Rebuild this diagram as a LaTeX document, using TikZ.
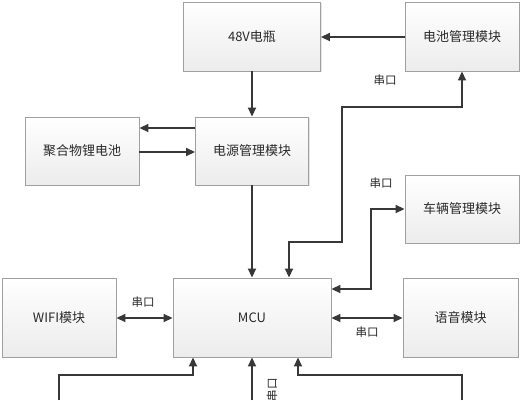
\documentclass[tikz,border=0pt]{standalone}
\usepackage{fontspec}
\setmainfont{Noto Sans CJK SC}
\usetikzlibrary{arrows.meta,shadows}

\definecolor{linegray}{HTML}{383838}
\definecolor{boxgray}{HTML}{A0A0A0}
\definecolor{txtgray}{HTML}{2A2A2A}

\tikzset{
	blk/.style={draw=boxgray, line width=.9pt, top color=white, bottom color=gray!15,
		minimum width=#1, text=txtgray, font=\fontsize{13}{15}\selectfont,
		drop shadow={opacity=.2, shadow xshift=1.2pt, shadow yshift=-1.2pt}},
	conn/.style={draw=linegray, line width=1.7pt, -{Triangle[length=9pt,width=8pt]}},
	conn2/.style={draw=linegray, line width=1.7pt, {Triangle[length=9pt,width=8pt]}-{Triangle[length=9pt,width=8pt]}},
	lbl/.style={text=txtgray, font=\fontsize{11.5}{12}\selectfont, inner sep=0pt}
}

\begin{document}
\begin{tikzpicture}[x=1pt,y=-1pt]

	\fill[white] (0,0) rectangle (525,400);
	\useasboundingbox (0,0) rectangle (525,400);

	% boxes
	\node[blk=137pt, minimum height=69pt] (bat48) at (252,36.5) {48V电瓶};
	\node[blk=114pt, minimum height=69pt] (bms) at (462,36.5) {电池管理模块};
	\node[blk=114pt, minimum height=68pt] (lipo) at (82,151) {聚合物锂电池};
	\node[blk=113pt, minimum height=68pt] (pwr) at (252,151) {电源管理模块};
	\node[blk=114pt, minimum height=68pt] (vcu) at (462,209) {车辆管理模块};
	\node[blk=114pt, minimum height=79pt] (wifi) at (59,317.5) {WIFI模块};
	\node[blk=158pt, minimum height=79pt] (mcu) at (252,317.5) {MCU};
	\node[blk=115pt, minimum height=79pt] (voice) at (460.5,317.5) {语音模块};

	% free ends at the lower edge
	\coordinate (b1) at (59,400);
	\coordinate (b2) at (252,400);
	\coordinate (b3) at (462,400);

	% power
	\draw[conn] (bms.west |- 0,37) -- (bat48.east |- 0,37);
	\draw[conn] (bat48.south) -- (pwr.north);
	\draw[conn] (pwr.west |- 0,128) -- (lipo.east |- 0,128);
	\draw[conn] (lipo.east |- 0,152) -- (pwr.west |- 0,152);
	\draw[conn] (pwr.south) -- (pwr.south |- mcu.north);

	% serial links
	\draw[conn2] (bms.south) |- (342,107) |- (289,242) -- (mcu.north -| 289,0);
	\draw[conn2] (vcu.west) -| (371,289) -- (mcu.east |- 0,289);
	\draw[conn2] (wifi.east |- 0,318) -- (mcu.west |- 0,318);
	\draw[conn2] (mcu.east |- 0,318) -- (voice.west |- 0,318);

	\draw[conn] (b1) |- (193,375) -- (mcu.south -| 193,0);
	\draw[conn] (b2) -- (mcu.south -| b2);
	\draw[conn] (b3) |- (298,375) -- (mcu.south -| 298,0);

	% labels
	\node[lbl] (l1) at (385,80) {串口};
	\node[lbl] (l2) at (381,183) {串口};
	\node[lbl] (l3) at (143,302) {串口};
	\node[lbl] (l4) at (367,332) {串口};
	\node[lbl, rotate=90, anchor=east] (l5) at (272,378) {串口};

\end{tikzpicture}
\end{document}
